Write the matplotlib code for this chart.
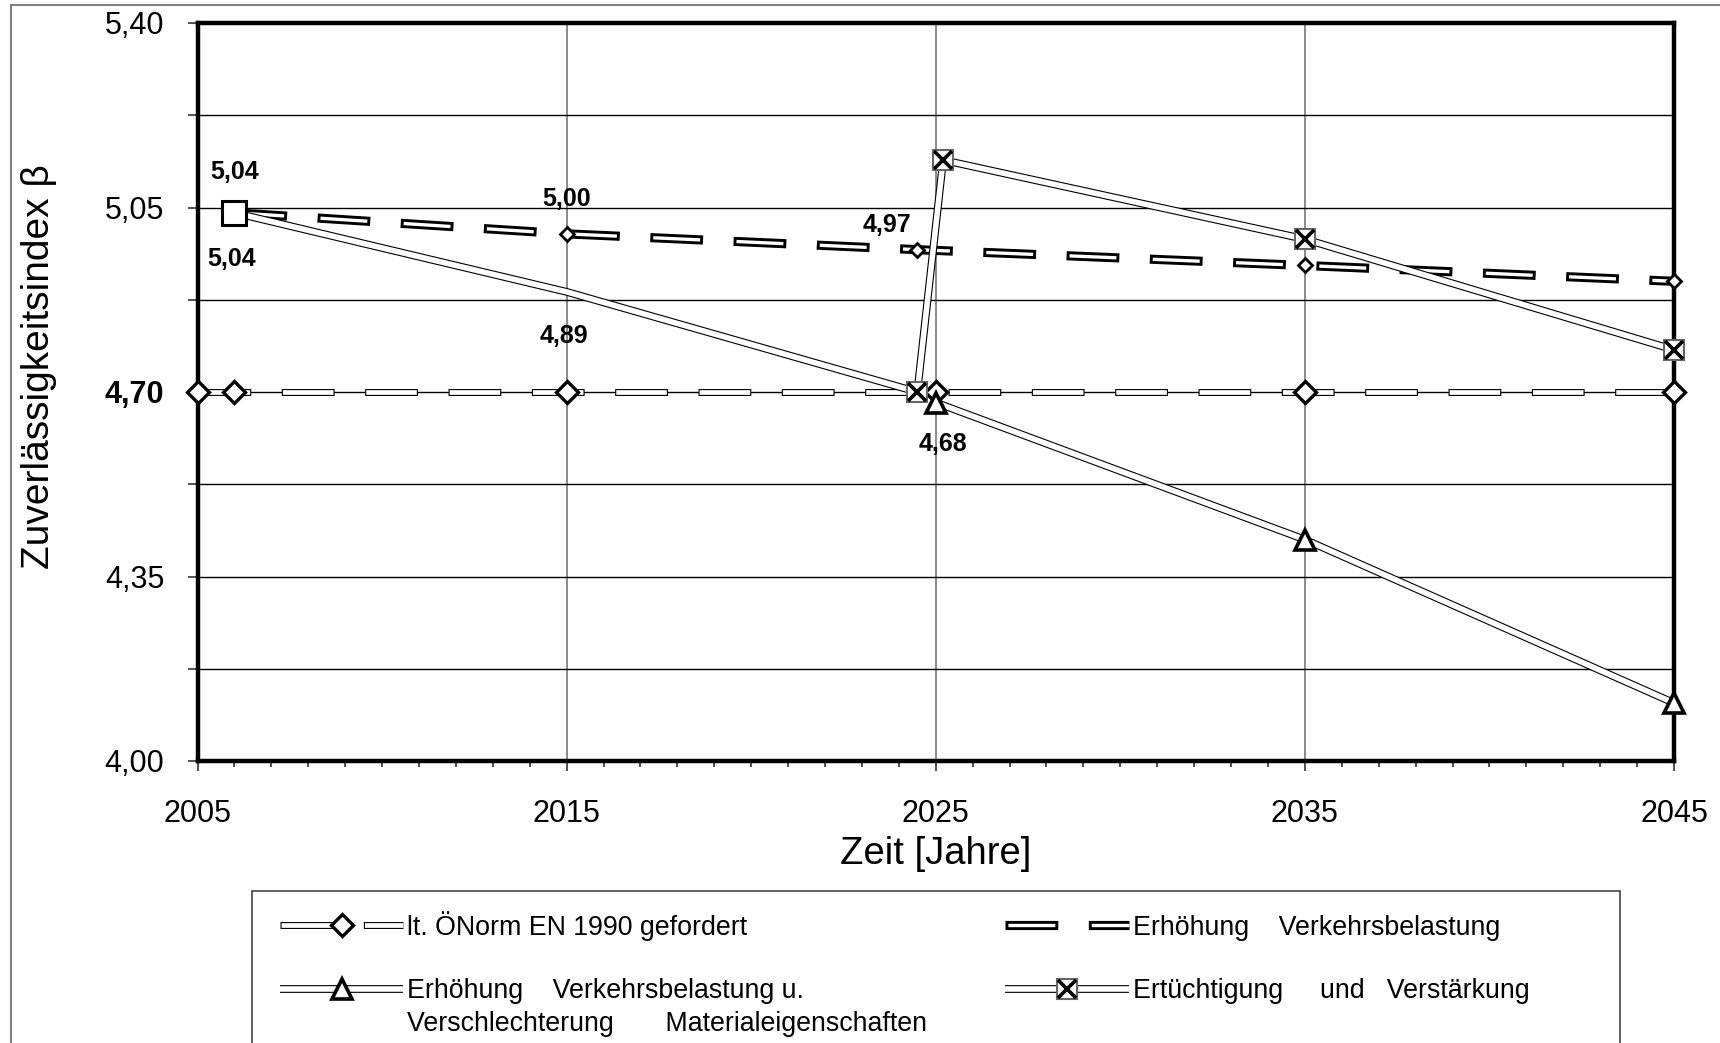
import matplotlib
matplotlib.use("Agg")
import matplotlib.pyplot as plt
from matplotlib.patches import Rectangle
from matplotlib.ticker import FixedLocator, MultipleLocator

plt.rcParams['font.family'] = ['Liberation Sans', 'DejaVu Sans']
plt.rcParams['lines.scale_dashes'] = False

# --- data ---
norm_years = [2005, 2006, 2015, 2025, 2035, 2045]
norm_beta = [4.70, 4.70, 4.70, 4.70, 4.70, 4.70]

verkehr_years = [2006, 2015, 2024.5, 2035, 2045]
verkehr_beta = [5.04, 5.00, 4.97, 4.94, 4.91]

material_years = [2025, 2035, 2045]
material_beta = [4.68, 4.42, 4.11]

ertuecht_years = [2006, 2015, 2024.5, 2025.2, 2035, 2045]
ertuecht_beta = [5.04, 4.89, 4.70, 5.14, 4.99, 4.78]

ann_text = ["5,04", "5,04", "5,00", "4,89", "4,97", "4,68"]
ann_x = [2006, 2006, 2015, 2015, 2024.5, 2025]
ann_y = [5.04, 5.04, 5.00, 4.89, 4.97, 4.68]

y_ticks = [4.00, 4.35, 4.70, 5.05, 5.40]
y_ticklabels = ["4,00", "4,35", "4,70", "5,05", "5,40"]
x_ticks = [2005, 2015, 2025, 2035, 2045]

labels = ["lt. ÖNorm EN 1990 gefordert",
          "Erhöhung    Verkehrsbelastung u.",
          "Erhöhung    Verkehrsbelastung",
          "Ertüchtigung     und   Verstärkung"]
label_2nd_line = "Verschlechterung       Materialeigenschaften"

W, H = 1720, 1043
fig = plt.figure(figsize=(W / 100, H / 100), dpi=100)
ax = fig.add_axes([197.5 / W, 1 - 761 / H, (1674 - 197.5) / W, (761 - 23) / H])

# outer frame of the chart area
fig.patches.append(Rectangle((11 / W, -0.05), 1.2, 1.05 - 5 / H, transform=fig.transFigure,
                             fill=False, edgecolor='#808080', lw=1.5, zorder=0))

PERIOD_ON, PERIOD_OFF = 38, 22


def double_line(x, y, outer, inner, dashed=False, z=3):
    """Black outline with a white core -> hollow 'double' line as in the original."""
    if dashed:
        b = (outer - inner) / 2
        ls_out = (0, (PERIOD_ON, PERIOD_OFF))
        ls_in = (PERIOD_ON + PERIOD_OFF - b, (PERIOD_ON - 2 * b, PERIOD_OFF + 2 * b))
    else:
        ls_out = ls_in = '-'
    lo, = ax.plot(x, y, color='black', lw=outer, ls=ls_out, zorder=z,
                  solid_capstyle='butt', dash_capstyle='butt')
    li, = ax.plot(x, y, color='white', lw=inner, ls=ls_in, zorder=z + 0.05,
                  solid_capstyle='butt', dash_capstyle='butt')
    return lo, li


# ÖNorm requirement
norm_lines = double_line(norm_years, norm_beta, 5.0, 3.4, dashed=True, z=3.0)
m_norm, = ax.plot(norm_years, norm_beta, ls='none', marker='D', ms=11, mfc='white',
                  mec='black', mew=2.4, zorder=6, clip_on=False)

# increased traffic load
verk_lines = double_line(verkehr_years, verkehr_beta, 6.6, 2.4, dashed=True, z=3.2)
m_verk, = ax.plot(verkehr_years[1:], verkehr_beta[1:], ls='none', marker='D', ms=7,
                  mfc='white', mec='black', mew=2.0, zorder=6, clip_on=False)

# traffic load + material deterioration
mat_lines = double_line(material_years, material_beta, 5.6, 4.0, z=3.4)
m_mat, = ax.plot(material_years, material_beta, ls='none', marker='^', ms=15, mfc='white',
                 mec='black', mew=2.6, zorder=7, clip_on=False)

# retrofitting and strengthening
ert_lines = double_line(ertuecht_years, ertuecht_beta, 5.6, 4.0, z=3.6)
m_ert_box, = ax.plot(ertuecht_years[2:], ertuecht_beta[2:], ls='none', marker='s', ms=15,
                     mfc='white', mec='#666666', mew=1.5, zorder=7, clip_on=False)
m_ert_x, = ax.plot(ertuecht_years[2:], ertuecht_beta[2:], ls='none', marker='x', ms=13.5,
                   mec='black', mew=2.6, zorder=7.1, clip_on=False)
ax.plot(ertuecht_years[:1], ertuecht_beta[:1], ls='none', marker='s', ms=17,
        mfc='white', mec='black', mew=2.2, zorder=7)

# value labels
offsets = [(0, 29), (-2, -33), (0, 25), (-2, -32), (-22, 18), (5, -30)]
for t, x, y, (dx, dy) in zip(ann_text, ann_x, ann_y, offsets):
    ax.annotate(t, (x, y), xytext=(dx, dy), textcoords='offset points', ha='center',
                va='center', fontsize=18, fontweight='bold', zorder=8)

# axes
ax.set_xlim(2005, 2045)
ax.set_ylim(4.00, 5.40)
ax.xaxis.set_major_locator(FixedLocator(x_ticks))
ax.xaxis.set_minor_locator(MultipleLocator(1))
ax.yaxis.set_major_locator(FixedLocator(y_ticks))
ax.yaxis.set_minor_locator(FixedLocator([(a + b) / 2 for a, b in zip(y_ticks, y_ticks[1:])]))
ax.set_yticklabels(y_ticklabels)
ax.yaxis.get_ticklabels()[2].set_fontweight('bold')
ax.tick_params(axis='both', which='major', labelsize=22, direction='out', length=7,
               width=1.2, color='#333333')
ax.tick_params(axis='y', which='major', pad=17)
ax.tick_params(axis='x', which='major', pad=20)
ax.tick_params(axis='y', which='minor', direction='out', length=7, width=1.2, color='#333333')
ax.tick_params(axis='x', which='minor', direction='out', length=4, width=1.2, color='#333333')

ax.grid(True, axis='y', which='both', color='black', lw=1.0, zorder=1)
ax.grid(True, axis='x', which='major', color='#777777', lw=1.2, zorder=1)
ax.set_axisbelow(True)
for s in ax.spines.values():
    s.set_linewidth(3.2)
    s.set_color('black')
    s.set_zorder(5)

ax.set_xlabel("Zeit [Jahre]", fontsize=27.5)
ax.xaxis.set_label_coords(0.5, -0.101)
ax.set_ylabel("Zuverlässigkeitsindex β", fontsize=28)
ax.yaxis.set_label_coords(-0.095, 0.535)

# legend: frame drawn separately, it runs past the lower figure edge
fig.patches.append(Rectangle((252 / W, -0.05), (1620 - 252) / W, 1.05 - 891 / H,
                             transform=fig.transFigure, fill=False,
                             edgecolor='#444444', lw=1.2, zorder=1))
handles = [(*norm_lines, m_norm), (*mat_lines, m_mat), verk_lines,
           (*ert_lines, m_ert_box, m_ert_x)]
leg = ax.legend(handles, labels, ncol=2, loc='upper left',
                bbox_to_anchor=(252 / W, 1 - 883 / H), bbox_transform=fig.transFigure,
                fontsize=19.3, frameon=False, borderaxespad=0, borderpad=1.04,
                handlelength=4.6, handletextpad=0.15, labelspacing=1.4,
                columnspacing=7.5)

fig.canvas.draw()
bb = leg.get_texts()[1].get_window_extent()
fig.text(bb.x0 / W, (bb.y0 + bb.y1) / 2 / H - 33 / H, label_2nd_line,
         fontsize=19.3, va='center', ha='left')

fig.savefig("out.png", dpi=100)
